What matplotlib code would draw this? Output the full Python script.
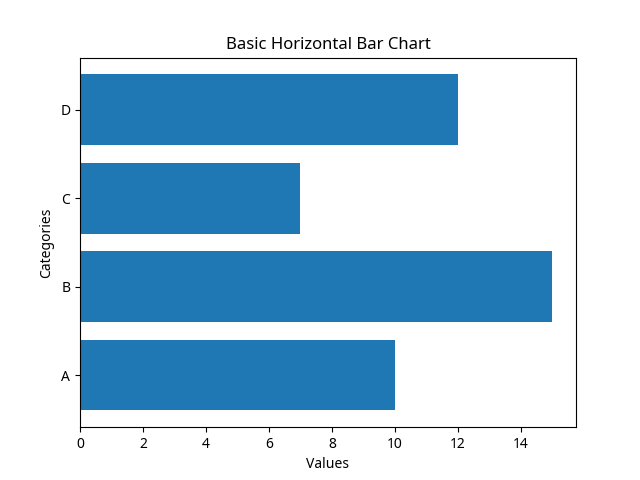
import matplotlib
matplotlib.use("Agg")
import matplotlib.pyplot as plt

plt.rcParams['font.family'] = ['Noto Sans', 'DejaVu Sans']

categories = ["A", "B", "C", "D"]
values = [10, 15, 7, 12]

fig, ax = plt.subplots(figsize=(6.4, 4.8), dpi=100)
ax.barh(categories, values, color="tab:blue")
ax.set_xlabel("Values")
ax.set_ylabel("Categories")
ax.set_title("Basic Horizontal Bar Chart")

plt.savefig("out.png", dpi=100)
